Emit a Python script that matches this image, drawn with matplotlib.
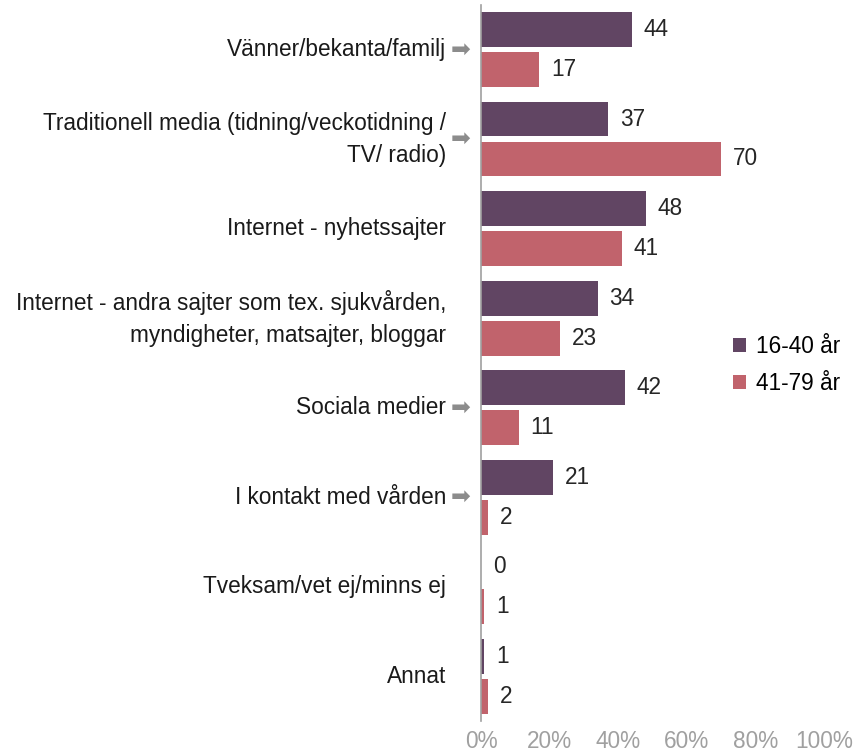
import matplotlib.pyplot as plt
import numpy as np

# --- data ---
categories = [
    "Vänner/bekanta/familj",
    "Traditionell media (tidning/veckotidning /\nTV/ radio)",
    "Internet - nyhetssajter",
    "Internet - andra sajter som tex. sjukvården,\nmyndigheter, matsajter, bloggar",
    "Sociala medier",
    "I kontakt med vården",
    "Tveksam/vet ej/minns ej",
    "Annat",
]
has_arrow = [True, True, False, False, True, True, False, False]
young = [44, 37, 48, 34, 42, 21, 0, 1]
old = [17, 70, 41, 23, 11, 2, 1, 2]
series_names = ["16-40 år", "41-79 år"]
xticks = [0, 20, 40, 60, 80, 100]

C_YOUNG = "#614563"
C_OLD = "#c1636c"
GREY = "#a0a0a0"
FS = 16.3

plt.rcParams["font.family"] = ["Liberation Sans", "DejaVu Sans"]

fig = plt.figure(figsize=(8.61, 7.56), dpi=100)
ax = fig.add_axes([481 / 861, 1 - 721 / 756, (824 - 481) / 861, (721 - 4.7) / 756])

y = np.arange(len(categories))
h = 0.39
off = 0.223
b1 = ax.barh(y - off, young, height=h, color=C_YOUNG, label=series_names[0])
b2 = ax.barh(y + off, old, height=h, color=C_OLD, label=series_names[1])

for bars, vals in ((b1, young), (b2, old)):
    for bar, v in zip(bars, vals):
        cy = bar.get_y() + bar.get_height() / 2
        ax.annotate(str(v), (v, cy), xytext=(8.5, 0), textcoords="offset points",
                    va="center", ha="left", fontsize=FS, color="#262626")

ax.set_xlim(0, 100)
ax.set_ylim(len(categories) - 0.5, -0.5)
ax.set_xticks(xticks)
ax.set_xticklabels([f"{t}%" for t in xticks], fontsize=FS, color=GREY)
ax.tick_params(axis="x", length=0, pad=6.5)
ax.set_yticks([])
for s in ("top", "right", "bottom"):
    ax.spines[s].set_visible(False)
ax.spines["left"].set_color(GREY)
ax.spines["left"].set_linewidth(1.2)

# category labels, some with a small arrow marker
for i, (lab, arr) in enumerate(zip(categories, has_arrow)):
    ax.annotate(lab, (0, i), xytext=(-25, 0), textcoords="offset points",
                ha="right", va="center", fontsize=FS, color="#1a1a1a",
                annotation_clip=False, linespacing=1.5)
    if arr:
        ax.annotate("\u27a1", (0, i), xytext=(-14.5, 0), textcoords="offset points",
                    ha="center", va="center", fontsize=17, color="#8c8c8c",
                    family="DejaVu Sans", annotation_clip=False)

fig.legend(handles=[b1, b2], labels=series_names, loc="center left",
           bbox_to_anchor=(713 / 861, 1 - 365 / 756), frameon=False,
           fontsize=FS, handlelength=0.55, handleheight=0.55,
           handletextpad=0.45, labelspacing=0.6)

fig.savefig("out.png", dpi=100)
